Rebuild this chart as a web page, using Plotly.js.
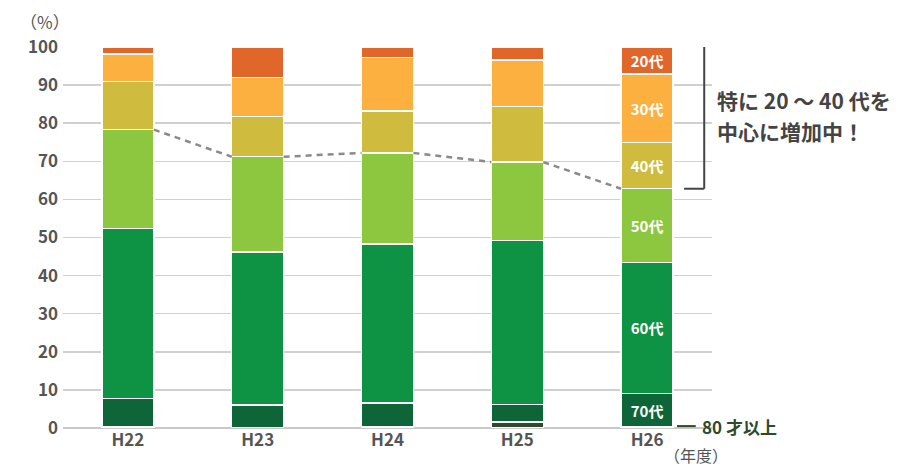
<!DOCTYPE html>
<html>
<head>
<meta charset="utf-8">
<script src="https://cdn.plot.ly/plotly-3.0.1.min.js"></script>
<style>html,body{margin:0;padding:0;background:#fff;}#chart{width:913px;height:470px;}</style>
</head>
<body>
<div id="chart"></div>
<script>
const years = ['H22', 'H23', 'H24', 'H25', 'H26'];
const age80 = [0.4, 0.0, 0.4, 1.6, 0.3];
const age70 = [7.3, 6.1, 6.2, 4.6, 8.8];
const age60 = [44.6, 40.1, 41.7, 43.0, 34.4];
const age50 = [26.0, 25.0, 23.9, 20.6, 19.3];
const age40 = [12.7, 10.5, 11.0, 14.6, 12.1];
const age30 = [7.2, 10.3, 14.0, 12.2, 18.0];
const age20 = [1.8, 8.0, 2.8, 3.4, 7.1];
const seriesNames = ['80才以上', '70代', '60代', '50代', '40代', '30代', '20代'];
const seriesColors = ['#2e4a2b', '#0e6537', '#0e9345', '#8dc63f', '#cfbc3e', '#fbb040', '#e0662a'];
const seriesData = [age80, age70, age60, age50, age40, age30, age20];

const FONT = '"Noto Sans CJK JP", "Noto Sans", sans-serif';
const barWidth = 0.4;
const xIdx = years.map((_, i) => i);

const traces = seriesData.map((vals, k) => ({
  type: 'bar',
  x: xIdx,
  y: vals,
  name: seriesNames[k],
  width: barWidth,
  marker: { color: seriesColors[k], line: { color: '#ffffff', width: 1.5 } },
  text: k === 0 ? vals.map(() => '') : vals.map((v, i) => i === years.length - 1 ? seriesNames[k] : ''),
  textposition: 'inside',
  insidetextanchor: 'middle',
  textangle: 0,
  constraintext: 'none',
  textfont: { color: '#ffffff', size: 15, family: FONT, weight: 'bold' },
  hoverinfo: 'skip'
}));

// dashed line linking the top of the 50s segment between bars
const top50 = years.map((_, i) => age80[i] + age70[i] + age60[i] + age50[i]);
const lx = [], ly = [];
for (let i = 0; i < years.length - 1; i++) {
  lx.push(i + barWidth / 2, i + 1 - barWidth / 2, null);
  ly.push(top50[i], top50[i + 1], null);
}
traces.push({
  type: 'scatter', mode: 'lines', x: lx, y: ly, connectgaps: false,
  line: { color: '#8a8a8a', width: 2.5, dash: '6px,5px' }, hoverinfo: 'skip', showlegend: false
});

const bracketBottom = top50[years.length - 1];

const layout = {
  width: 913, height: 470,
  margin: { l: 62.5, r: 200.5, t: 47, b: 42 },
  paper_bgcolor: '#ffffff', plot_bgcolor: '#ffffff',
  barmode: 'stack',
  showlegend: false,
  xaxis: {
    range: [-0.5, years.length - 0.5],
    tickvals: xIdx, ticktext: years,
    showgrid: false, zeroline: false, showline: false, ticks: '',
    tickfont: { family: FONT, size: 17, color: '#555555', weight: 'bold' }
  },
  yaxis: {
    range: [0, 100], tickvals: [0, 10, 20, 30, 40, 50, 60, 70, 80, 90, 100],
    showgrid: true, gridcolor: '#d0d0d0', gridwidth: 1.5,
    zeroline: true, zerolinecolor: '#c8c8c8', zerolinewidth: 2,
    showline: false, ticks: '', ticklabelstandoff: 4,
    tickfont: { family: FONT, size: 17, color: '#555555', weight: 'bold' }
  },
  shapes: [
    { type: 'line', xref: 'paper', yref: 'y', x0: 0.988, x1: 0.988, y0: 100.3, y1: bracketBottom, line: { color: '#444444', width: 2 } },
    { type: 'line', xref: 'paper', yref: 'y', x0: 0.957, x1: 0.988, y0: 100.3, y1: 100.3, line: { color: '#444444', width: 2 } },
    { type: 'line', xref: 'paper', yref: 'y', x0: 0.957, x1: 0.988, y0: bracketBottom, y1: bracketBottom, line: { color: '#444444', width: 2 } },
    { type: 'line', xref: 'paper', yref: 'y', x0: 0.946, x1: 0.975, y0: 0.5, y1: 0.5, line: { color: '#2e4a2b', width: 2 } }
  ],
  annotations: [
    { xref: 'paper', yref: 'paper', x: -0.028, y: 1.068, xanchor: 'center', yanchor: 'middle', showarrow: false,
      text: '（%）', font: { family: FONT, size: 17, color: '#555555' } },
    { xref: 'paper', yref: 'y', x: 1.005, y: 86.1, xanchor: 'left', yanchor: 'middle', showarrow: false, align: 'left',
      text: '特に 20 ～ 40 代を', font: { family: FONT, size: 21, color: '#444444', weight: 'bold' } },
    { xref: 'paper', yref: 'y', x: 1.005, y: 78.0, xanchor: 'left', yanchor: 'middle', showarrow: false, align: 'left',
      text: '中心に増加中！', font: { family: FONT, size: 21, color: '#444444', weight: 'bold' } },
    { xref: 'paper', yref: 'y', x: 0.982, y: 0.5, xanchor: 'left', yanchor: 'middle', showarrow: false,
      text: '80 才以上', font: { family: FONT, size: 17, color: '#2e4a2b', weight: 'bold' } },
    { xref: 'paper', yref: 'paper', x: 0.976, y: -0.072, xanchor: 'center', yanchor: 'middle', showarrow: false,
      text: '（年度）', font: { family: FONT, size: 16, color: '#555555' } }
  ]
};

Plotly.newPlot('chart', traces, layout, { displayModeBar: false, staticPlot: true });
</script>
</body>
</html>
